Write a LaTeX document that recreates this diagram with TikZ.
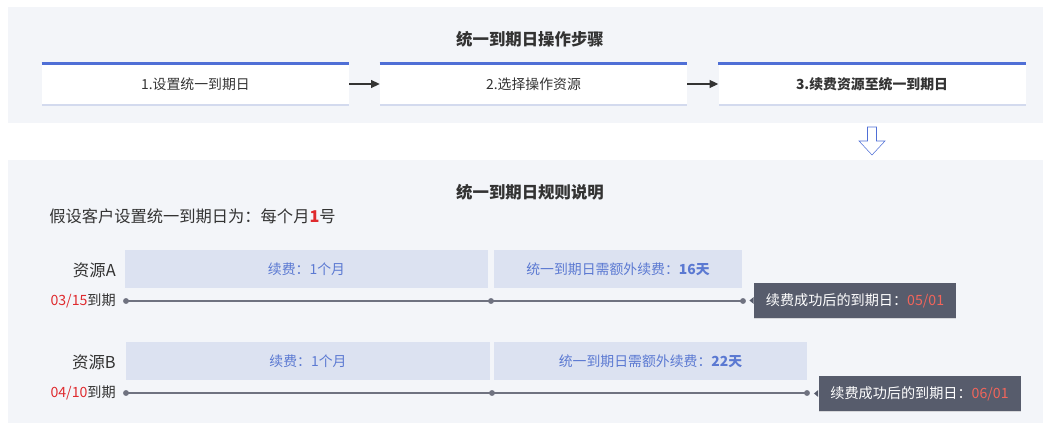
\documentclass[tikz,border=0pt]{standalone}
\usepackage{fontspec}
\setmainfont{Noto Sans CJK SC}
\usetikzlibrary{shadows,arrows.meta}

\definecolor{panelbg}{HTML}{F3F5F9}
\definecolor{stepblue}{HTML}{4F6FD6}
\definecolor{darktext}{HTML}{333333}
\definecolor{barfill}{HTML}{DCE2F1}
\definecolor{bartext}{HTML}{5B79D2}
\definecolor{tipbg}{HTML}{575C6C}
\definecolor{tipred}{HTML}{F2655B}
\definecolor{datered}{HTML}{DF2A2E}
\definecolor{linegray}{HTML}{6F7280}
\definecolor{shadowblue}{HTML}{9AA8DC}

\tikzset{
    stepbox/.style={fill=white, inner sep=0pt, minimum width=230.25pt, minimum height=30.75pt,
        text=darktext, font=\fontsize{10.4}{12}\selectfont,
        drop shadow={shadow xshift=0pt, shadow yshift=-1.2pt, fill=shadowblue, opacity=.35}},
    stepbar/.style={stepblue, line width=2.2pt},
    steparrow/.style={darktext, line width=0.8pt, -{Triangle[length=6.5pt, width=6pt]}},
    daybar/.style={fill=barfill, inner sep=0pt, minimum height=28.5pt,
        text=bartext, font=\fontsize{10.4}{12}\selectfont},
    tipbox/.style={fill=tipbg, inner sep=0pt, minimum width=151.5pt, minimum height=26pt,
        text=white, font=\fontsize{10.6}{12}\selectfont,
        drop shadow={shadow xshift=0pt, shadow yshift=-1pt, fill=gray, opacity=.25}},
    rowlabel/.style={anchor=east, inner sep=0pt, text=darktext, font=\fontsize{12.3}{14}\selectfont},
    datelabel/.style={anchor=east, inner sep=0pt, text=darktext, font=\fontsize{10.6}{12}\selectfont},
    title/.style={text=darktext, font=\fontsize{12.3}{14}\selectfont\bfseries},
    dot/.style={fill=linegray}
}

\begin{document}
\begin{tikzpicture}[x=0.75pt, y=-0.75pt]
            \useasboundingbox (0, 0) rectangle (1051, 424);
            \fill[panelbg] (8, 7) rectangle (1043, 123);
            \fill[panelbg] (8, 160) rectangle (1043, 423);

            \draw
                (530, 39) node (title1) [title] {统一到期日操作步骤}
                (195.5, 84) node (s1) [stepbox] {1.设置统一到期日}
                (533.5, 84) node (s2) [stepbox] {2.选择操作资源}
                (872, 84) node (s3) [stepbox, font=\fontsize{10.4}{12}\selectfont\bfseries] {3.续费资源至统一到期日}
            ;

            \draw[stepbar]
                (s1.north west) -- (s1.north east)
                (s2.north west) -- (s2.north east)
                (s3.north west) -- (s3.north east)
            ;

            \draw[steparrow] (s1) -- (s2);
            \draw[steparrow] (s2) -- (s3);

            \draw[stepblue, fill=white, line join=miter]
                (867.5, 127) -- (876.5, 127) -- (876.5, 141) -- (885, 141) -- (872, 155)
                -- (859, 141) -- (867.5, 141) -- cycle;

            \draw
                (530, 192) node (title2) [title] {统一到期日规则说明}
                (49, 216) node (intro) [anchor=west, inner sep=0pt, text=darktext, font=\fontsize{12.2}{14}\selectfont]
                    {假设客户设置统一到期日为：每个月{\bfseries\color{datered}1}号}

                (116, 270) node (resA) [rowlabel] {资源A}
                (116, 301) node (dateA) [datelabel] {{\color{datered}03/15}到期}
                (306.5, 269) node (barA1) [daybar, minimum width=272.25pt] {续费：1个月}
                (618, 269) node (barA2) [daybar, minimum width=186pt] {统一到期日需额外续费：\textbf{16天}}
                (855, 300.5) node (tipA) [tipbox] {续费成功后的到期日：{\color{tipred}05/01}}

                (116, 362) node (resB) [rowlabel] {资源B}
                (116, 393) node (dateB) [datelabel] {{\color{datered}04/10}到期}
                (308, 361) node (barB1) [daybar, minimum width=273pt] {续费：1个月}
                (650.5, 361) node (barB2) [daybar, minimum width=234.75pt] {统一到期日需额外续费：\textbf{22天}}
                (919.5, 393.5) node (tipB) [tipbox] {续费成功后的到期日：{\color{tipred}06/01}}
            ;

            \coordinate (a0) at (126, 301);
            \coordinate (a1) at (491, 301);
            \coordinate (a2) at (743, 301);
            \coordinate (b0) at (126, 393);
            \coordinate (b1) at (492, 393);
            \coordinate (b2) at (807, 393);

            \draw[linegray, line width=1pt]
                (a0) -- (a1) -- (a2)
                (b0) -- (b1) -- (b2)
            ;

            \fill[dot] (a0) circle (2.2pt) (a1) circle (2.2pt) (a2) circle (2.2pt);
            \fill[dot] (b0) circle (2.2pt) (b1) circle (2.2pt) (b2) circle (2.2pt);

            \fill[tipbg]
                ([yshift=2.6pt]tipA.west) -- ([xshift=-3.2pt]tipA.west) -- ([yshift=-2.6pt]tipA.west) -- cycle
                ([yshift=2.6pt]tipB.west) -- ([xshift=-3.2pt]tipB.west) -- ([yshift=-2.6pt]tipB.west) -- cycle
            ;

        \end{tikzpicture}
\end{document}
